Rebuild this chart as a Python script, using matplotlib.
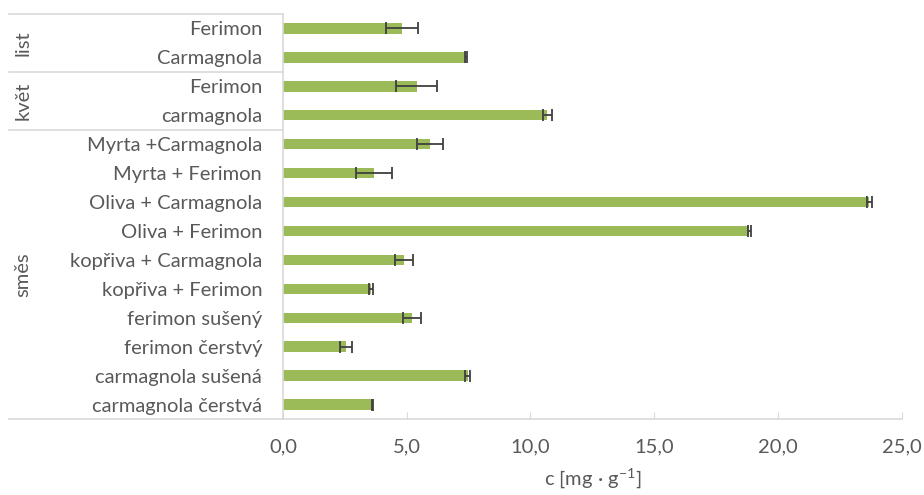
import matplotlib
matplotlib.use("Agg")
import matplotlib.pyplot as plt
from matplotlib.lines import Line2D
from matplotlib.transforms import blended_transform_factory

plt.rcParams['font.family'] = ['Lato', 'DejaVu Sans']

# top to bottom, as listed in the sample table
labels = ['Ferimon', 'Carmagnola',
          'Ferimon', 'carmagnola',
          'Myrta +Carmagnola', 'Myrta + Ferimon', 'Oliva + Carmagnola',
          'Oliva + Ferimon', 'kopřiva + Carmagnola', 'kopřiva + Ferimon',
          'ferimon sušený', 'ferimon čerstvý', 'carmagnola sušená',
          'carmagnola čerstvá']
values = [4.80, 7.40,
          5.40, 10.68,
          5.94, 3.68, 23.70,
          18.85, 4.89, 3.54,
          5.20, 2.55, 7.46,
          3.62]
errors = [0.65, 0.05,
          0.84, 0.18,
          0.54, 0.73, 0.11,
          0.05, 0.35, 0.08,
          0.36, 0.24, 0.10,
          0.02]
groups = ['list', 'květ', 'směs']
group_sizes = [2, 2, 10]

xticks = [0, 5, 10, 15, 20, 25]

grey = '#595959'
line_grey = '#d9d9d9'
fs = 14.5

fig = plt.figure(figsize=(9.24, 4.95), dpi=100)
ax = fig.add_axes([283 / 924, 1 - 419 / 495, 618.5 / 924, 405 / 495])

pos = list(range(len(labels)))
ax.barh(pos, values, height=0.36, color='#9bbb59', zorder=2)
ax.errorbar(values, pos, xerr=errors, fmt='none', ecolor='#404040',
            elinewidth=1.3, capsize=4.2, capthick=1.3, zorder=3)

ax.set_ylim(len(labels) - 0.5, -0.5)
ax.set_xlim(0, 25)
ax.set_yticks(pos)
ax.set_yticklabels(labels, fontsize=fs, color=grey)
ax.tick_params(axis='y', length=0, pad=15)
ax.set_xticks(xticks)
ax.set_xticklabels([f'{t:.1f}'.replace('.', ',') for t in xticks],
                   fontsize=fs, color=grey)
ax.tick_params(axis='x', direction='in', length=5, color=line_grey, pad=14)
ax.set_xlabel('c [mg · g$^{\\mathregular{-1}}$]', fontsize=fs,
              color=grey, labelpad=8)

for s in ['top', 'right']:
    ax.spines[s].set_visible(False)
for s in ['left', 'bottom']:
    ax.spines[s].set_color(line_grey)
    ax.spines[s].set_linewidth(1.2)

# category group separators reaching under the labels
trans = blended_transform_factory(ax.transAxes, ax.transData)
x0 = (9 - 283) / 618.5
bounds = [-0.5]
for n in group_sizes:
    bounds.append(bounds[-1] + n)
for b in bounds:
    ax.add_line(Line2D([x0, 0], [b, b], transform=trans, color=line_grey,
                       lw=1.2, clip_on=False))

for name, lo, hi in zip(groups, bounds[:-1], bounds[1:]):
    ax.text((23 - 283) / 618.5, (lo + hi) / 2, name, transform=trans,
            rotation=90, ha='center', va='center', fontsize=fs, color=grey)

fig.savefig('out.png', dpi=100)
